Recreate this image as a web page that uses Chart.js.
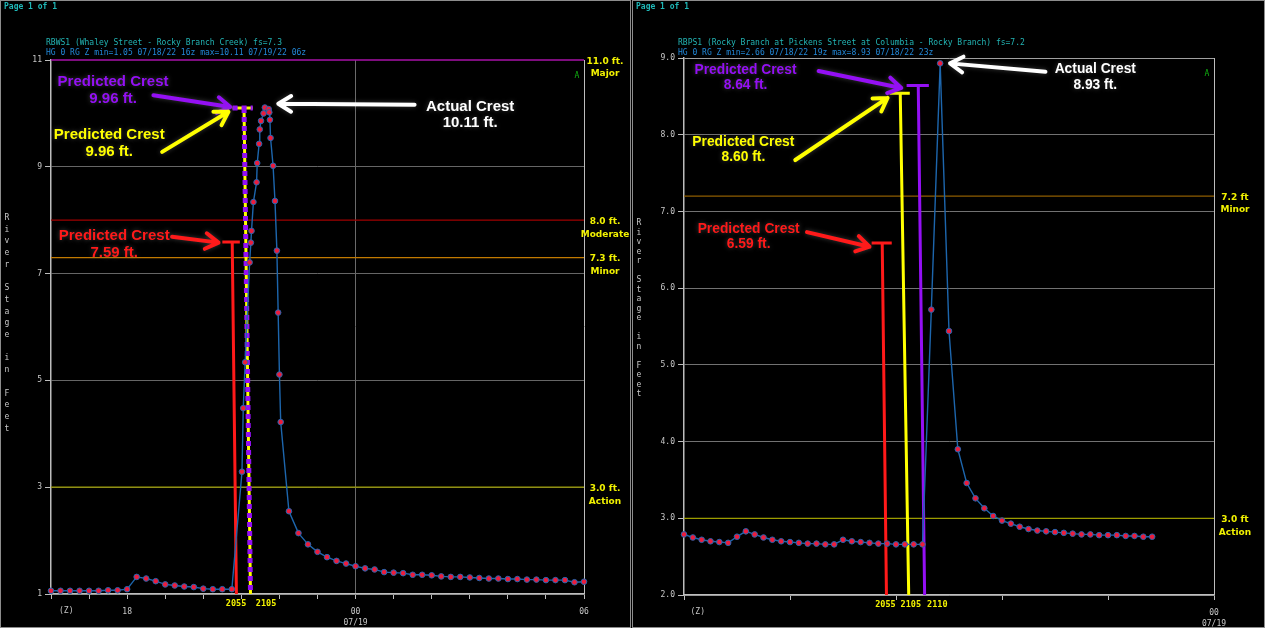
<!DOCTYPE html>
<html>
<head>
<meta charset="utf-8">
<script src="https://cdn.jsdelivr.net/npm/chart.js@4.4.0/dist/chart.umd.min.js"></script>
<style>
html, body { margin: 0; width: 1265px; height: 628px; background: #000; overflow: hidden; }
.panel { position: absolute; top: 0; height: 626px; border: 1px solid #8c8c8c; background: #000; }
#pl { left: 0; width: 629px; }
#pr { left: 632px; width: 631px; }
.panel canvas { position: absolute; left: 0; top: 0; }
.page { position: absolute; left: 3px; top: 1px; font: bold 8px 'DejaVu Sans Mono', monospace; color: #1fb8b8; }
</style>
</head>
<body>
<div class="panel" id="pl"><canvas id="c1" width="629" height="626"></canvas><div class="page">Page 1 of 1</div></div>
<div class="panel" id="pr"><canvas id="c2" width="631" height="626"></canvas><div class="page">Page 1 of 1</div></div>
<script>
// ---- left gauge: RBWS1, times in hours of 07/18 (24:00 = 00z 07/19)
const leftTimes = ['16:00','16:15','16:30','16:45','17:00','17:15','17:30','17:45','18:00','18:15',
  '18:30','18:45','19:00','19:15','19:30','19:45','20:00','20:15','20:30','20:45',
  '21:01','21:03','21:06','21:13','21:15','21:16','21:19','21:24','21:25','21:28',
  '21:29','21:31','21:35','21:37','21:43','21:44','21:45','21:46','21:50','21:53',
  '21:56','21:58','22:00','22:02','22:15','22:30','22:45','23:00','23:15','23:30',
  '23:45','24:00','24:15','24:30','24:45','25:00','25:15','25:30','25:45','26:00',
  '26:15','26:30','26:45','27:00','27:15','27:30','27:45','28:00','28:15','28:30',
  '28:45','29:00','29:15','29:30','29:45','30:00'];
const leftStage = [1.06,1.06,1.06,1.06,1.06,1.06,1.07,1.07,1.09,1.32,
  1.29,1.24,1.18,1.16,1.14,1.13,1.10,1.09,1.09,1.09,
  3.29,4.48,5.34,7.21,7.58,7.80,8.34,8.71,9.07,9.43,
  9.70,9.86,10.00,10.11,10.08,10.02,9.88,9.54,9.02,8.36,
  7.43,6.27,5.11,4.22,2.55,2.14,1.93,1.79,1.69,1.62,
  1.57,1.52,1.48,1.46,1.41,1.40,1.39,1.36,1.36,1.35,
  1.33,1.32,1.32,1.31,1.30,1.29,1.29,1.28,1.28,1.27,
  1.27,1.26,1.26,1.26,1.22,1.23];
const leftYTicks = [1, 3, 5, 7, 9, 11];
const leftFlood = [11.0, 8.0, 7.3, 3.0];
const leftFloodText = [['11.0 ft.','Major'], ['8.0 ft.','Moderate'], ['7.3 ft.','Minor'], ['3.0 ft.','Action']];
// predicted crests: stage, [bar start, bar end, stem top, stem foot] in hours
const leftRedCrest = 7.59, leftRedSpan = [20.50, 20.96, 20.76, 20.87];
const leftYelCrest = 10.10, leftYelSpan = [20.77, 21.30, 21.07, 21.24];

// ---- right gauge: RBPS1, 5 minute data
const rightTimes = ['19:00','19:05','19:10','19:15','19:20','19:25','19:30','19:35','19:40','19:45',
  '19:50','19:55','20:00','20:05','20:10','20:15','20:20','20:25','20:30','20:35',
  '20:40','20:45','20:50','20:55','21:00','21:05','21:10','21:15','21:20','21:25',
  '21:30','21:35','21:40','21:45','21:50','21:55','22:00','22:05','22:10','22:15',
  '22:20','22:25','22:30','22:35','22:40','22:45','22:50','22:55','23:00','23:05',
  '23:10','23:15','23:20','23:25'];
const rightStage = [2.79,2.75,2.72,2.70,2.69,2.68,2.76,2.83,2.79,2.75,
  2.72,2.70,2.69,2.68,2.67,2.67,2.66,2.66,2.72,2.70,
  2.69,2.68,2.67,2.67,2.66,2.66,2.66,2.66,5.72,8.93,
  5.44,3.90,3.46,3.26,3.13,3.03,2.97,2.93,2.89,2.86,
  2.84,2.83,2.82,2.81,2.80,2.79,2.79,2.78,2.78,2.78,
  2.77,2.77,2.76,2.76];
const rightYTicks = [2, 3, 4, 5, 6, 7, 8, 9];
const rightFlood = [7.2, 3.0];
const rightFloodText = [['7.2 ft','Minor'], ['3.0 ft','Action']];
const rightRedCrest = 6.59, rightRedSpan = [20.77, 20.96, 20.87, 20.91];
const rightYelCrest = 8.54, rightYelSpan = [20.94, 21.13, 21.04, 21.12];
const rightPurCrest = 8.64, rightPurSpan = [21.10, 21.31, 21.21, 21.27];

const MONO = "'DejaVu Sans Mono', monospace";
const SANS = "'Liberation Sans', Arial, sans-serif";
const PURPLE = '#9410f4', YELLOW = '#ffff00', RED = '#ff1a1a';

const hrs = t => { const p = t.split(':'); return +p[0] + p[1] / 60; };
const pts = (times, vals) => times.map((t, i) => ({ x: hrs(t), y: vals[i] }));
const flat = (lvl, x0, x1) => [{ x: x0, y: lvl }, { x: x1, y: lvl }];
const crest = (stage, s, foot) => [
  { x: s[0], y: stage }, { x: s[1], y: stage }, { x: s[1], y: null },
  { x: s[2], y: stage }, { x: s[3], y: foot }];

function lineSet(data, color, width, extra) {
  return Object.assign({ data, borderColor: color, borderWidth: width, pointRadius: 0,
    fill: false, tension: 0, clip: false, spanGaps: false }, extra || {});
}

function arrow(ctx, x1, y1, x2, y2, color) {
  const a = Math.atan2(y2 - y1, x2 - x1), L = 15, s = 0.55;
  ctx.save();
  ctx.strokeStyle = color; ctx.lineWidth = 4; ctx.lineCap = 'round'; ctx.lineJoin = 'round';
  ctx.shadowColor = 'rgba(120,120,120,0.5)'; ctx.shadowBlur = 5;
  ctx.beginPath();
  ctx.moveTo(x1, y1); ctx.lineTo(x2, y2);
  ctx.moveTo(x2 - L * Math.cos(a - s), y2 - L * Math.sin(a - s));
  ctx.lineTo(x2, y2);
  ctx.lineTo(x2 - L * Math.cos(a + s), y2 - L * Math.sin(a + s));
  ctx.stroke();
  ctx.restore();
}

function overlay(o) {
  return {
    id: 'overlay',
    afterDraw(chart) {
      const ctx = chart.ctx, xs = chart.scales.x, ys = chart.scales.y, area = chart.chartArea;
      const X = v => xs.getPixelForValue(v), Y = v => ys.getPixelForValue(v);
      ctx.save();
      ctx.textBaseline = 'middle';
      // header
      ctx.textAlign = 'left';
      ctx.font = '8px ' + MONO;
      ctx.fillStyle = '#22b4b4';
      ctx.fillText(o.title[0], o.titleX, 41.5);
      ctx.fillStyle = '#2288d8';
      ctx.fillText(o.title[1], o.titleX, 52.3);
      // vertical axis title, one letter per line
      ctx.textAlign = 'center';
      ctx.fillStyle = '#c8c8c8';
      ctx.font = '8px ' + MONO;
      const letters = 'River Stage in Feet'.split('');
      letters.forEach((c, i) => { if (c !== ' ') ctx.fillText(c, 6, o.yTitleTop + i * o.yTitleStep); });
      // flood category labels
      ctx.font = 'bold 9px ' + "'DejaVu Sans', sans-serif";
      ctx.fillStyle = '#f2f200';
      o.flood.forEach((lvl, i) => {
        const y = Y(lvl);
        ctx.fillText(o.floodText[i][0], area.right + 21, y + o.floodDy);
        ctx.fillText(o.floodText[i][1], area.right + 21, y + o.floodDy + 12.5);
      });
      // station flag
      ctx.fillStyle = '#10b010';
      ctx.font = '8px ' + MONO;
      ctx.fillText('A', area.right - 7, area.top + 16);
      // time zone tag and crest times under the axis
      ctx.fillStyle = '#c8c8c8';
      ctx.fillText('(Z)', X(o.zoneAt), area.bottom + 17);
      ctx.fillStyle = '#f2f200';
      ctx.font = 'bold 8.5px ' + MONO;
      o.timeTags.forEach(t => ctx.fillText(t[0], X(t[1]), area.bottom + 10));
      // annotations
      o.notes.forEach(n => {
        arrow(ctx, X(n.from[0]), Y(n.from[1]), X(n.to[0]), Y(n.to[1]), n.color);
        ctx.save();
        ctx.font = 'bold ' + o.noteSize + 'px ' + SANS;
        ctx.fillStyle = n.color;
        ctx.shadowColor = 'rgba(110,110,110,0.6)'; ctx.shadowBlur = 5;
        const cx = X(n.at[0]), cy = Y(n.at[1]), gap = o.noteSize * 0.55;
        ctx.fillText(n.lines[0], cx, cy - gap);
        ctx.fillText(n.lines[1], cx, cy + gap);
        ctx.restore();
      });
      ctx.restore();
    }
  };
}

function makeChart(id, o) {
  const xTickCb = v => (o.xLabels[v] !== undefined ? o.xLabels[v] : '');
  return new Chart(document.getElementById(id), {
    type: 'line',
    data: { datasets: o.datasets },
    options: {
      responsive: false, animation: false,
      layout: { padding: { left: 0, right: o.padRight, top: o.padTop, bottom: 0 } },
      plugins: { legend: { display: false }, tooltip: { enabled: false } },
      scales: {
        x: {
          type: 'linear', min: o.xMin, max: o.xMax,
          afterFit: s => { s.height = o.xHeight; },
          ticks: { stepSize: 1, autoSkip: false, maxRotation: 0, padding: 8, callback: xTickCb,
            color: '#c8c8c8', font: { family: MONO, size: 8, lineHeight: 1.35 } },
          grid: { drawOnChartArea: true, tickLength: 5, tickColor: '#bdbdbd', lineWidth: 1,
            color: c => (c.tick && o.xGrid[c.tick.value]) || 'rgba(0,0,0,0)' },
          border: { color: '#bdbdbd', width: 1.5 }
        },
        y: {
          min: o.yTicks[0], max: o.yTicks[o.yTicks.length - 1],
          afterFit: s => { s.width = o.yWidth; },
          afterBuildTicks: s => { s.ticks = o.yTicks.map(v => ({ value: v })); },
          ticks: { padding: 3, color: '#c8c8c8', font: { family: MONO, size: 8 }, callback: o.yFmt },
          grid: { tickLength: 6, tickColor: '#bdbdbd', lineWidth: 1,
            color: c => (c.tick && o.yGrid(c.tick.value)) },
          border: { color: '#bdbdbd', width: 1.5 }
        }
      }
    },
    plugins: [overlay(o)]
  });
}

function series(data) {
  return lineSet(data, '#1d66ad', 1.4, { pointRadius: 2.8, pointBorderWidth: 1,
    pointBackgroundColor: '#ec1c3c', pointBorderColor: '#2366b0', order: 1, clip: 6 });
}

// ---- left chart
makeChart('c1', {
  padRight: 46, padTop: 59, xHeight: 33, yWidth: 50,
  xMin: 16, xMax: 30, yTicks: leftYTicks, yFmt: v => String(v),
  xLabels: { 18: '18', 24: ['00', '07/19'], 30: '06' },
  xGrid: { 24: '#6a6a6a', 30: '#bdbdbd' },
  yGrid: v => (v === 11 ? 'rgba(0,0,0,0)' : '#666666'),
  title: ['RBWS1 (Whaley Street - Rocky Branch Creek) fs=7.3',
          'HG 0 RG Z min=1.05 07/18/22 16z max=10.11 07/19/22 06z'],
  titleX: 45, yTitleTop: 217, yTitleStep: 11.7,
  flood: leftFlood, floodText: leftFloodText, floodDy: 1.5,
  zoneAt: 16.4,
  timeTags: [['2055', 20.86], ['2105', 21.65]],
  noteSize: 15,
  notes: [
    { lines: ['Predicted Crest', '9.96 ft.'], color: PURPLE, at: [17.63, 10.43], from: [18.69, 10.34], to: [20.71, 10.12] },
    { lines: ['Predicted Crest', '9.96 ft.'], color: YELLOW, at: [17.53, 9.44], from: [18.92, 9.28], to: [20.66, 10.03] },
    { lines: ['Predicted Crest', '7.59 ft.'], color: RED, at: [17.66, 7.55], from: [19.18, 7.69], to: [20.40, 7.58] },
    { lines: ['Actual Crest', '10.11 ft.'], color: '#ffffff', at: [27.01, 9.97], from: [25.55, 10.16], to: [21.97, 10.18] }
  ],
  datasets: [
    series(pts(leftTimes, leftStage)),
    lineSet(crest(leftYelCrest, leftYelSpan, 1), PURPLE, 5, { borderDash: [5, 4], order: 2 }),
    lineSet(crest(leftYelCrest, leftYelSpan, 1), YELLOW, 3, { order: 3 }),
    lineSet(crest(leftRedCrest, leftRedSpan, 1), RED, 3, { order: 4 }),
    lineSet(flat(leftFlood[0], 16, 30), '#a812a8', 1.5, { order: 9 }),
    lineSet(flat(leftFlood[1], 16, 30), '#a00000', 1.2, { order: 9 }),
    lineSet(flat(leftFlood[2], 16, 30), '#c27a00', 1.2, { order: 9 }),
    lineSet(flat(leftFlood[3], 16, 30), '#9c9c00', 1.2, { order: 9 })
  ]
});

// ---- right chart
makeChart('c2', {
  padRight: 50, padTop: 57, xHeight: 32, yWidth: 51,
  xMin: 19, xMax: 24, yTicks: rightYTicks, yFmt: v => v.toFixed(1),
  xLabels: { 24: ['00', '07/19'] },
  xGrid: { 24: '#bdbdbd' },
  yGrid: v => (v === 9 ? '#a0a0a0' : '#727272'),
  title: ['RBPS1 (Rocky Branch at Pickens Street at Columbia - Rocky Branch) fs=7.2',
          'HG 0 RG Z min=2.66 07/18/22 19z max=8.93 07/18/22 23z'],
  titleX: 45, yTitleTop: 222, yTitleStep: 9.5,
  flood: rightFlood, floodText: rightFloodText, floodDy: 1.5,
  zoneAt: 19.13,
  timeTags: [['2055', 20.90], ['2105', 21.14], ['2110', 21.39]],
  noteSize: 13.8,
  notes: [
    { lines: ['Predicted Crest', '8.64 ft.'], color: PURPLE, at: [19.58, 8.74], from: [20.27, 8.83], to: [21.05, 8.61] },
    { lines: ['Predicted Crest', '8.60 ft.'], color: YELLOW, at: [19.56, 7.81], from: [20.05, 7.67], to: [20.92, 8.48] },
    { lines: ['Predicted Crest', '6.59 ft.'], color: RED, at: [19.61, 6.67], from: [20.16, 6.73], to: [20.75, 6.54] },
    { lines: ['Actual Crest', '8.93 ft.'], color: '#ffffff', at: [22.88, 8.75], from: [22.41, 8.82], to: [21.51, 8.93] }
  ],
  datasets: [
    series(pts(rightTimes, rightStage)),
    lineSet(crest(rightPurCrest, rightPurSpan, 2), PURPLE, 3, { order: 2 }),
    lineSet(crest(rightYelCrest, rightYelSpan, 2), YELLOW, 3, { order: 3 }),
    lineSet(crest(rightRedCrest, rightRedSpan, 2), RED, 3, { order: 4 }),
    lineSet(flat(rightFlood[0], 19, 24), '#8e5c00', 1.3, { order: 9 }),
    lineSet(flat(rightFlood[1], 19, 24), '#9c9c00', 1.3, { order: 9 })
  ]
});
</script>
</body>
</html>
